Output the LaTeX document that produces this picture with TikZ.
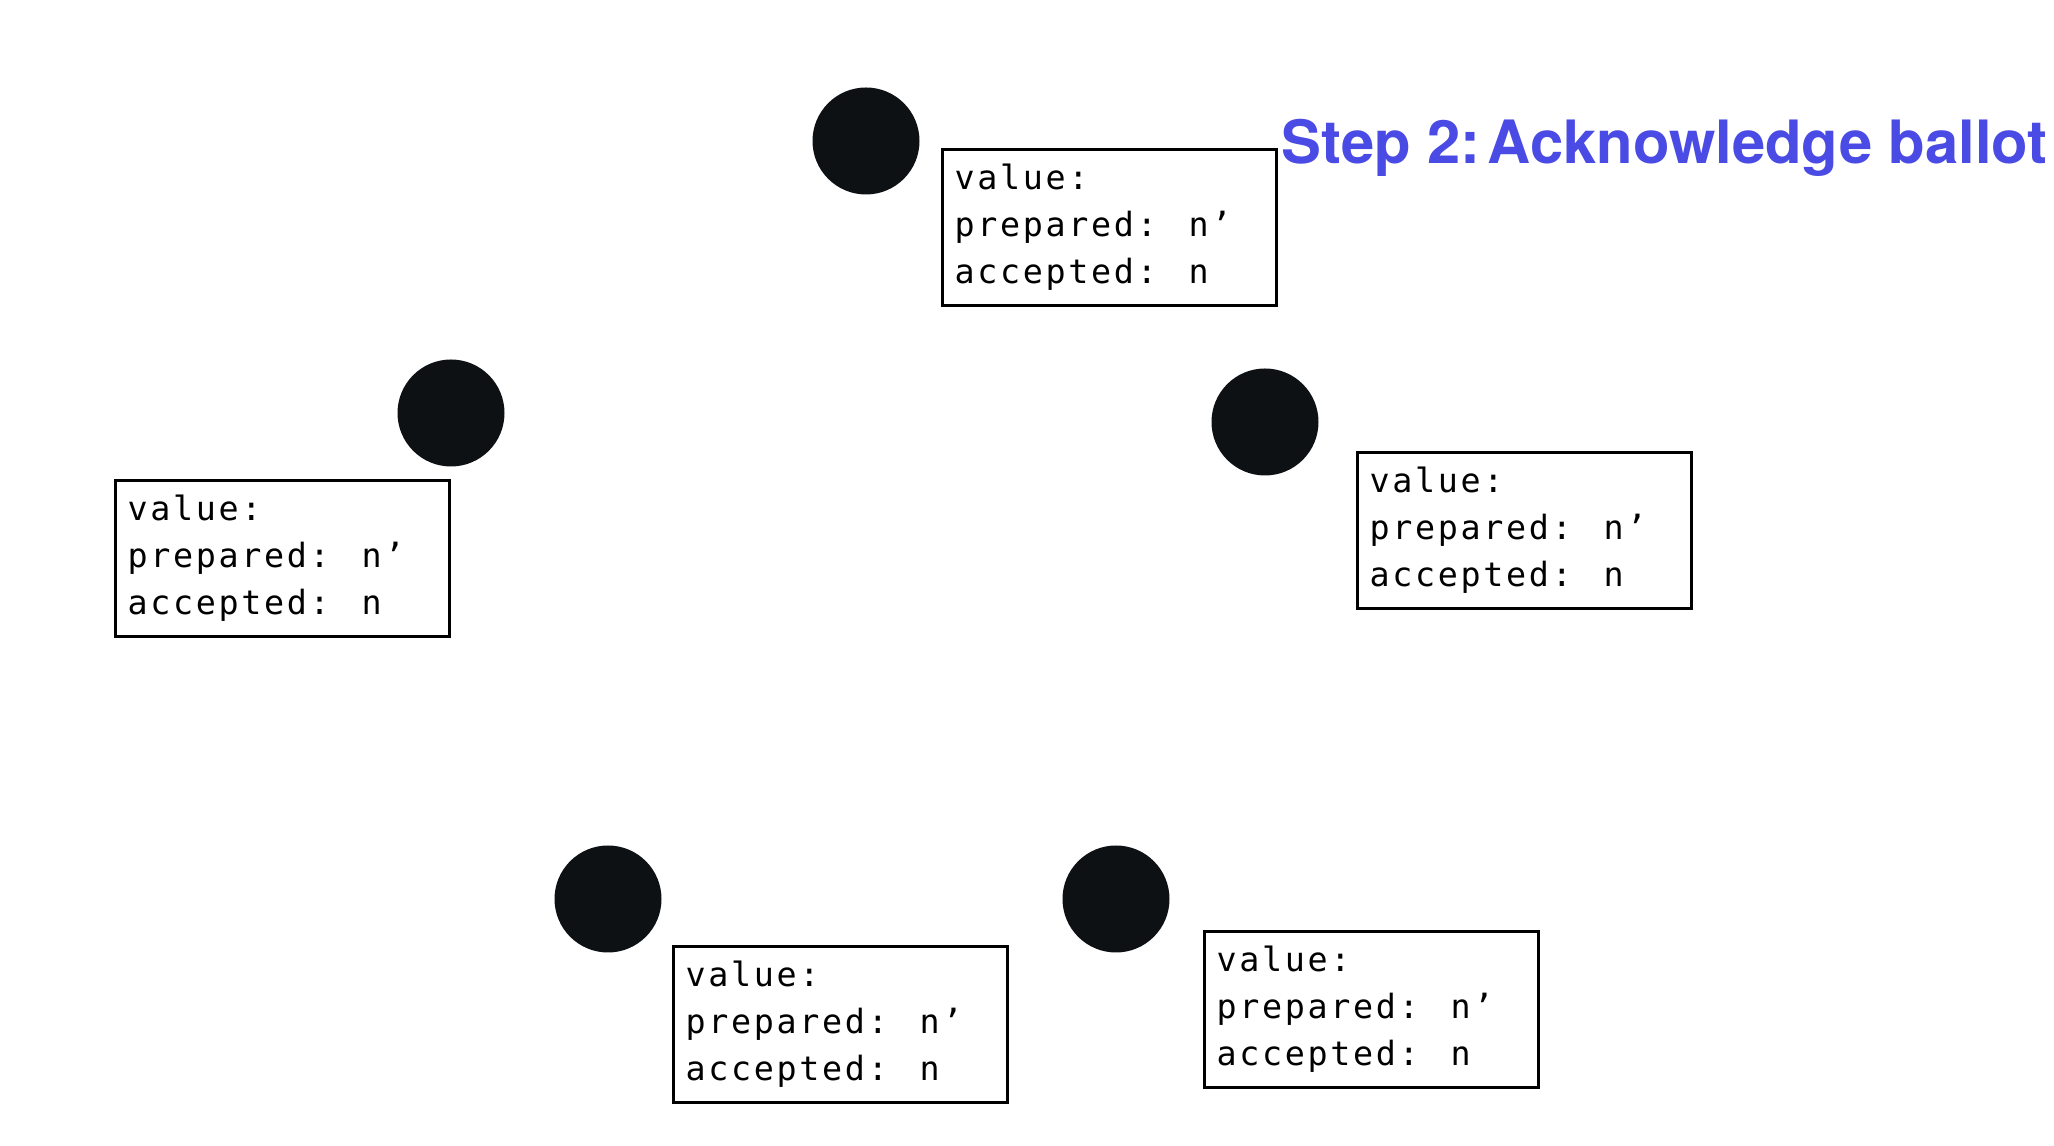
\documentclass[tikz,border=0pt]{standalone}
\usepackage{fontspec}
\setmonofont{DejaVu Sans Mono}[LetterSpace=8]
\newfontfamily\titlefont{TeX Gyre Heros}
\usepackage{tikz}
\usetikzlibrary{positioning}

\definecolor{stepblue}{RGB}{74,74,228}
\definecolor{dotblack}{RGB}{13,17,20}

\tikzset{
	acceptor/.style = {circle, fill=dotblack, minimum size=1.07cm, inner sep=0pt},
	statebox/.style = {draw, line width=0.9pt, anchor=north west,
		minimum width=3.34cm, minimum height=1.56cm, text width=3.1cm,
		inner xsep=0.08cm, align=left, font=\ttfamily\fontsize{9.5}{13.4}\selectfont}
}

\newcommand{\acceptstate}{value:\\prepared: \hspace{0.45em}n’\\accepted: \hspace{0.45em}n}

\begin{document}
\begin{tikzpicture}
	\useasboundingbox (0,0) rectangle (20.54,11.46);
	% acceptors
	\node [acceptor] (top) at (8.66,10.05) {};
	\node [acceptor] (left) at (4.51,7.33) {};
	\node [acceptor] (right) at (12.65,7.24) {};
	\node [acceptor] (botleft) at (6.08,2.47) {};
	\node [acceptor] (botright) at (11.16,2.47) {};
	% their state
	\node [statebox] (topstate) at (9.41,9.98) {\acceptstate};
	\node [statebox] (leftstate) at (1.14,6.67) {\acceptstate};
	\node [statebox] (rightstate) at (13.56,6.95) {\acceptstate};
	\node [statebox] (botleftstate) at (6.72,2.01) {\acceptstate};
	\node [statebox] (botrightstate) at (12.03,2.16) {\acceptstate};
	% title
	\node [anchor=base west, inner sep=0pt, text=stepblue,
		font=\titlefont\bfseries\fontsize{17}{20}\selectfont]
		(title) at (12.81,9.82) {Step 2:\hspace{0.12em}Acknowledge ballot};
\end{tikzpicture}
\end{document}
